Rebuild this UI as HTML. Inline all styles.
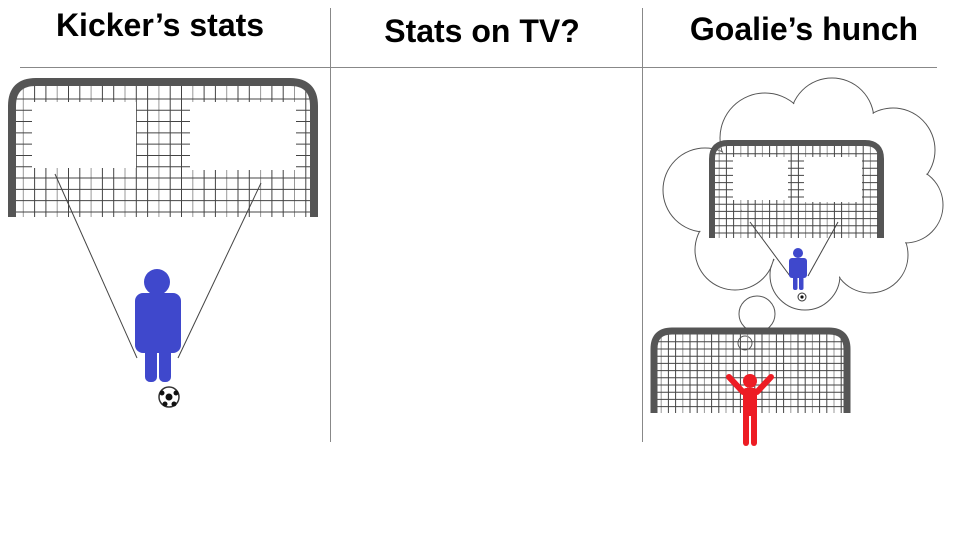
<!DOCTYPE html>
<html><head><meta charset="utf-8"><style>
body{margin:0;background:#fff;}
svg{display:block;font-family:"Liberation Sans",sans-serif;}
</style></head><body>
<svg id="s" width="960" height="540" viewBox="0 0 960 540">
<g font-weight="bold" font-size="32" text-anchor="middle" fill="#000">
<text x="160" y="36">Kicker’s stats</text>
<text x="482" y="42">Stats on TV?</text>
<text x="804" y="40">Goalie’s hunch</text>
</g>
<line x1="20" y1="67.5" x2="937" y2="67.5" stroke="#888" stroke-width="1"/>
<line x1="330.5" y1="8" x2="330.5" y2="442" stroke="#888" stroke-width="1"/>
<line x1="642.5" y1="8" x2="642.5" y2="442" stroke="#888" stroke-width="1"/>
<g id="g1"></g>
<g id="cloud"></g>
<g id="g3"></g>
<g stroke="#444" stroke-width="1">
<line x1="137" y1="358" x2="55" y2="174"/><line x1="178" y1="358" x2="261" y2="183"/>
</g>
<g fill="#3f48cc">
<circle cx="157" cy="282" r="13"/>
<rect x="135" y="293" width="46" height="60" rx="8"/>
<rect x="145" y="330" width="12" height="52" rx="5"/>
<rect x="159" y="330" width="12" height="52" rx="5"/>
</g>
<g>
<circle cx="169" cy="397" r="10" fill="#fff" stroke="#333" stroke-width="1.5"/>
<circle cx="169" cy="397" r="3.5" fill="#111"/><circle cx="162" cy="393" r="2.5" fill="#111"/><circle cx="176" cy="393" r="2.5" fill="#111"/><circle cx="165" cy="404" r="2.5" fill="#111"/><circle cx="174" cy="404" r="2.5" fill="#111"/>
</g>
<g fill="#ed1c24" stroke="#ed1c24">
<circle cx="750" cy="381" r="7" stroke="none"/>
<path d="M729 377 L743 392 L757 392 L771 377" fill="none" stroke-width="6" stroke-linecap="round" stroke-linejoin="round"/>
<rect x="743" y="388" width="14" height="28" rx="3" stroke="none"/>
<rect x="743" y="405" width="6" height="41" rx="3" stroke="none"/>
<rect x="751" y="405" width="6" height="41" rx="3" stroke="none"/>
</g>
</svg>
<script>
var NS="http://www.w3.org/2000/svg";
function el(p,t,a){var e=document.createElementNS(NS,t);for(var k in a)e.setAttribute(k,a[k]);p.appendChild(e);return e;}
function goal(g,x0,x1,y0,y1,step,sw,r,holes){
  var net=el(g,"g",{stroke:"#444","stroke-width":1});
  var k=0;
  for(var x=x0+step;x<x1-2;x+=step){el(net,"line",{x1:x,y1:y0+sw/2,x2:x,y2:y1,stroke:(k++%3==0?"#999":"#444")});}
  for(var y=y0+step*1.5;y<y1;y+=step){el(net,"line",{x1:x0,y1:y,x2:x1,y2:y});}
  holes.forEach(function(h){el(g,"rect",{x:h[0],y:h[1],width:h[2]-h[0],height:h[3]-h[1],fill:"#fff"});});
  el(g,"path",{d:"M"+x0+" "+(y1)+" L"+x0+" "+(y0+r)+" Q"+x0+" "+y0+" "+(x0+r)+" "+y0+" L"+(x1-r)+" "+y0+" Q"+x1+" "+y0+" "+x1+" "+(y0+r)+" L"+x1+" "+y1,fill:"none",stroke:"#555","stroke-width":sw});
}
goal(document.getElementById("g1"),12,314,82,217,11.3,8,24,[[32,102,136,168],[190,102,296,170]]);
var c=document.getElementById("cloud");
var circ=[[705,190,42],[765,138,45],[832,120,42],[893,150,42],[905,205,38],[870,255,38],[805,275,35],[735,250,40],[810,200,70],[757,314,18],[745,343,7]];
circ.forEach(function(a){el(c,"circle",{cx:a[0],cy:a[1],r:a[2],fill:"none",stroke:"#555","stroke-width":1});});
circ.forEach(function(a){el(c,"circle",{cx:a[0],cy:a[1],r:a[2]-0.8,fill:"#fff"});});
goal(c,712,881,143,238,7.2,6,16,[[733,157,788,200],[804,157,862,202]]);
var m=el(c,"g",{stroke:"#444","stroke-width":1});
el(m,"line",{x1:790,y1:276,x2:750,y2:222});el(m,"line",{x1:808,y1:276,x2:838,y2:222});
var f=el(c,"g",{fill:"#3f48cc"});
el(f,"circle",{cx:798,cy:253,r:5});el(f,"rect",{x:789,y:258,width:18,height:20,rx:3});
el(f,"rect",{x:793,y:270,width:4.5,height:20,rx:2});el(f,"rect",{x:799,y:270,width:4.5,height:20,rx:2});
el(c,"circle",{cx:802,cy:297,r:4,fill:"#fff",stroke:"#333"});el(c,"circle",{cx:802,cy:297,r:1.6,fill:"#111"});
goal(document.getElementById("g3"),654,847,331,413,7.2,7,18,[]);
</script>
</body></html>
